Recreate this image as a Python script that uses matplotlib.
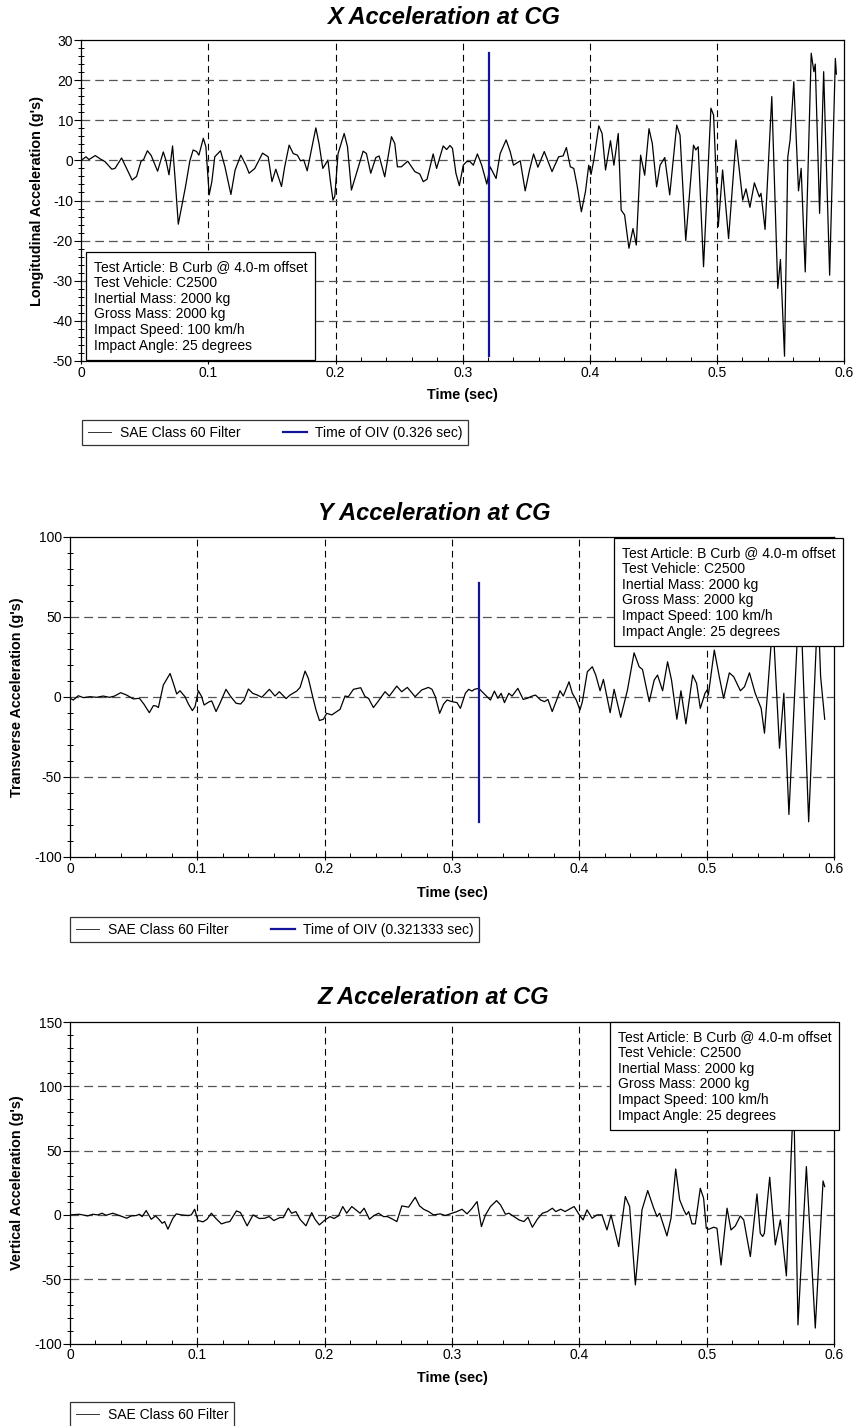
import matplotlib
matplotlib.use("Agg")
import matplotlib.pyplot as plt
from matplotlib.ticker import MultipleLocator, FuncFormatter
from matplotlib.transforms import blended_transform_factory

plt.rcParams['font.family'] = ['Liberation Sans', 'DejaVu Sans']
plt.rcParams['axes.unicode_minus'] = False

# ---- X acceleration ----
x_time = [0.0, 0.0037, 0.006, 0.011, 0.0147, 0.0186, 0.024, 0.0265, 0.0317, 0.035,
          0.040, 0.0435, 0.047, 0.049, 0.052, 0.055, 0.060, 0.0645, 0.0666, 0.069,
          0.0718, 0.074, 0.0763, 0.079, 0.082, 0.0854, 0.088, 0.0907, 0.0925, 0.096,
          0.098, 0.1006, 0.1027, 0.105, 0.1095, 0.113, 0.1177, 0.121, 0.1255, 0.1295,
          0.132, 0.1365, 0.1426, 0.147, 0.150, 0.153, 0.1575, 0.160, 0.1635, 0.1667,
          0.170, 0.1724, 0.175, 0.1777, 0.181, 0.1845, 0.187, 0.190, 0.1916, 0.194,
          0.196, 0.198, 0.1994, 0.202, 0.2068, 0.2094, 0.2125, 0.2165, 0.2217, 0.2243,
          0.2277, 0.2317, 0.2343, 0.2387, 0.244, 0.2466, 0.2487, 0.2518, 0.2568, 0.2624,
          0.2663, 0.269, 0.272, 0.2768, 0.2795, 0.2847, 0.2874, 0.290, 0.292, 0.2947,
          0.2974, 0.3005, 0.3032, 0.3058, 0.3084, 0.3116, 0.315, 0.319, 0.3216, 0.3263,
          0.3295, 0.3342, 0.3374, 0.340, 0.3453, 0.3492, 0.3526, 0.3558, 0.3592, 0.3642,
          0.3703, 0.3755, 0.379, 0.3816, 0.3847, 0.3874, 0.390, 0.3934, 0.3966, 0.3992,
          0.401, 0.4032, 0.4071, 0.4097, 0.4124, 0.4163, 0.419, 0.4224, 0.4247, 0.4274,
          0.4308, 0.434, 0.4366, 0.440, 0.4432, 0.4466, 0.4492, 0.4526, 0.4553, 0.459,
          0.4629, 0.4684, 0.471, 0.4755, 0.4816, 0.4834, 0.4853, 0.4895, 0.4953, 0.4974,
          0.5011, 0.5045, 0.5092, 0.515, 0.5203, 0.5229, 0.526, 0.5295, 0.5334, 0.5347,
          0.5379, 0.5432, 0.5479, 0.550, 0.5532, 0.5558, 0.5576, 0.5605, 0.5642, 0.5663,
          0.5695, 0.5742, 0.5763, 0.5774, 0.5808, 0.584, 0.5887, 0.5932, 0.594]
x_accel = [0.0, 0.9, 0.2, 1.2, 0.4, -0.3, -2.2, -2.0, 0.6, -1.6,
           -4.9, -4.0, -0.2, 0.2, 2.4, 1.2, -2.7, 2.1, 0.0, -3.6,
           3.6, -5.5, -15.9, -11.5, -6.5, -0.1, 2.6, 2.2, 1.3, 5.5,
           3.4, -8.6, -5.3, 0.9, 2.4, -1.6, -8.5, -2.4, 1.3, -1.2,
           -3.2, -2.0, 1.8, 0.9, -5.3, -2.2, -6.5, -1.6, 3.8, 1.7,
           1.3, -0.1, 0.1, -2.6, 2.6, 8.1, 4.2, -2.0, -1.2, 0.1,
           -5.3, -9.9, -9.0, 1.7, 6.7, 3.4, -7.4, -3.2, 2.3, 1.7,
           -3.2, 0.7, 1.1, -4.1, 5.9, 4.2, -1.6, -1.6, -0.2, -2.8,
           -3.4, -5.3, -4.7, 1.6, -2.0, 3.6, 2.7, 3.7, 3.0, -3.2,
           -6.3, -1.2, -0.3, -0.3, -1.2, 1.6, -1.2, -5.9, -1.6, -4.5,
           1.7, 5.1, 2.2, -1.2, -0.1, -7.6, -2.4, 1.6, -1.7, 2.2,
           -2.8, 0.9, 1.1, 3.2, -1.6, -2.0, -6.2, -12.8, -7.8, -1.2,
           -3.5, 0.1, 8.6, 6.7, -2.4, 4.9, -1.2, 6.7, -12.4, -13.6,
           -21.9, -17.0, -21.1, 1.3, -3.7, 7.9, 4.2, -6.6, -1.2, 0.7,
           -8.6, 8.8, 6.3, -20.0, 3.8, 2.6, 3.4, -26.5, 13.0, 11.3,
           -16.5, -2.4, -19.5, 5.1, -9.9, -7.1, -11.7, -5.6, -9.1, -8.2,
           -17.2, 15.9, -31.9, -24.7, -48.8, 0.9, 5.1, 19.6, -7.6, -2.0,
           -27.8, 26.7, 22.1, 24.0, -13.2, 22.1, -28.6, 25.4, 21.5]
x_oiv = 0.3208

# ---- Y acceleration ----
y_time = [0.0, 0.0026, 0.0065, 0.0105, 0.0157, 0.021, 0.026, 0.031, 0.035, 0.0398,
          0.0445, 0.0497, 0.0545, 0.058, 0.0623, 0.0655, 0.0676, 0.0694, 0.0733, 0.0786,
          0.0812, 0.0838, 0.0864, 0.0903, 0.093, 0.0961, 0.0982, 0.1008, 0.1034, 0.1053,
          0.1095, 0.1113, 0.1147, 0.1178, 0.1225, 0.1257, 0.1304, 0.134, 0.1367, 0.1401,
          0.1435, 0.1472, 0.1506, 0.1566, 0.161, 0.1644, 0.1697, 0.1728, 0.178, 0.1807,
          0.1846, 0.1872, 0.1906, 0.1932, 0.1959, 0.199, 0.2016, 0.2056, 0.2082, 0.2121,
          0.216, 0.2186, 0.2226, 0.2283, 0.2317, 0.2344, 0.2383, 0.2422, 0.2474, 0.2508,
          0.2566, 0.2605, 0.2649, 0.271, 0.2762, 0.2815, 0.2843, 0.2869, 0.2903, 0.2934,
          0.2961, 0.300, 0.3039, 0.3066, 0.3105, 0.3131, 0.3157, 0.3176, 0.321, 0.3236,
          0.327, 0.3302, 0.3333, 0.336, 0.3386, 0.3412, 0.3446, 0.3472, 0.3517, 0.3559,
          0.3591, 0.363, 0.3656, 0.3696, 0.3727, 0.3753, 0.3787, 0.3827, 0.3848, 0.3874,
          0.3919, 0.3945, 0.3976, 0.4005, 0.4024, 0.4063, 0.4102, 0.4129, 0.4163, 0.4189,
          0.4242, 0.4273, 0.4325, 0.4378, 0.443, 0.447, 0.4496, 0.4549, 0.4588, 0.4614,
          0.4654, 0.4693, 0.4724, 0.4766, 0.4798, 0.4837, 0.489, 0.4921, 0.495, 0.4987,
          0.5003, 0.5013, 0.506, 0.5098, 0.5133, 0.5178, 0.5212, 0.5265, 0.5297, 0.5336,
          0.5381, 0.5428, 0.5454, 0.552, 0.5572, 0.5606, 0.5646, 0.5732, 0.5801, 0.5874,
          0.5895, 0.5927]
y_accel = [-0.8, -1.9, 0.8, -0.4, 0.2, -0.2, 0.6, -0.2, 0.6, 2.7,
           1.2, -1.2, -0.8, -4.4, -9.8, -5.4, -5.6, -6.6, 7.5, 14.7,
           8.5, 1.9, 3.9, 0.2, -4.4, -8.5, -6.0, 3.9, 0.2, -5.0,
           -2.9, -2.5, -9.1, -3.9, 4.8, 0.8, -3.9, -4.4, -1.9, 5.0,
           2.3, 1.2, -0.2, 4.8, 0.6, 3.3, -1.0, 1.2, 3.7, 6.0,
           16.2, 11.6, 0.2, -8.1, -14.7, -13.9, -10.2, -11.2, -9.8, -7.7,
           0.6, 0.2, 4.8, 5.8, 0.2, -0.8, -6.6, -2.5, 3.3, 0.6,
           6.8, 3.3, 6.0, 0.2, 4.4, 6.0, 4.8, 0.2, -10.2, -4.4,
           -1.9, -2.9, -3.5, -7.1, 2.3, 4.8, 3.7, 4.8, 5.4, 3.3,
           0.6, -1.9, 3.7, -0.8, 2.3, -3.5, 2.3, 0.6, 5.4, -1.5,
           -0.8, 0.6, 1.2, -1.9, -2.9, -1.5, -9.1, -0.8, 3.9, 0.6,
           9.5, 2.3, -1.9, -8.1, -2.9, 15.8, 18.9, 13.7, 3.9, 11.0,
           -9.8, 4.8, -12.7, 4.4, 27.6, 18.9, 17.2, -2.9, 10.6, 13.7,
           3.9, 22.0, 10.6, -13.9, 3.9, -16.8, 13.7, 8.5, -7.1, 2.3,
           4.4, 1.2, 29.3, 13.1, -0.8, 15.1, 12.7, 3.9, 6.4, 15.1,
           2.3, -7.1, -22.6, 48.0, -32.0, 2.3, -73.4, 71.0, -78.0, 58.0,
           12.7, -13.9]
y_oiv = 0.3210

# ---- Z acceleration ----
z_time = [0.0, 0.0073, 0.0139, 0.0178, 0.0218, 0.0252, 0.0283, 0.0336, 0.0388, 0.0446,
          0.048, 0.052, 0.0546, 0.0567, 0.0598, 0.0638, 0.0672, 0.0698, 0.0724, 0.0743,
          0.0769, 0.0808, 0.0835, 0.0874, 0.0927, 0.0953, 0.0979, 0.1005, 0.1045, 0.1076,
          0.111, 0.1144, 0.1189, 0.1228, 0.1255, 0.1307, 0.1339, 0.1391, 0.1438, 0.1486,
          0.153, 0.1564, 0.1601, 0.1648, 0.1675, 0.1714, 0.174, 0.1774, 0.1806, 0.1853,
          0.1898, 0.1924, 0.1958, 0.2003, 0.2042, 0.2073, 0.2108, 0.2142, 0.2173, 0.2213,
          0.2252, 0.2278, 0.231, 0.2352, 0.2383, 0.2423, 0.2462, 0.2493, 0.2535, 0.2567,
          0.2606, 0.2659, 0.2711, 0.2745, 0.2777, 0.2816, 0.2855, 0.2908, 0.2947, 0.300,
          0.3039, 0.3079, 0.3118, 0.3158, 0.3197, 0.3231, 0.3263, 0.3302, 0.335, 0.3381,
          0.342, 0.3447, 0.3486, 0.3526, 0.3565, 0.3597, 0.3631, 0.367, 0.371, 0.3749,
          0.3788, 0.3815, 0.3854, 0.3888, 0.392, 0.3959, 0.400, 0.4029, 0.406, 0.410,
          0.4139, 0.4178, 0.4217, 0.4249, 0.4309, 0.4361, 0.4395, 0.444, 0.4492, 0.4537,
          0.4584, 0.461, 0.4631, 0.4688, 0.472, 0.4757, 0.4788, 0.482, 0.484, 0.4859,
          0.4885, 0.4911, 0.495, 0.4976, 0.4997, 0.5016, 0.5055, 0.5081, 0.5113, 0.516,
          0.5191, 0.5225, 0.5264, 0.5291, 0.5343, 0.5395, 0.5421, 0.544, 0.5453, 0.5495,
          0.5539, 0.5579, 0.5626, 0.5683, 0.5717, 0.5783, 0.5853, 0.5914, 0.5927]
z_accel = [0.0, 0.5, -0.8, 0.5, 0.0, 1.3, -0.3, 1.3, -0.5, -2.6,
           -0.8, -0.5, 0.5, -1.3, 3.4, -3.4, -0.8, -3.4, -6.5, -5.2,
           -11.1, -2.6, 0.8, 0.0, -0.5, 0.0, 4.4, -4.4, -5.4, -3.4,
           1.3, -2.6, -7.0, -5.7, -5.2, 3.1, 1.8, -8.5, 0.0, -2.8,
           -2.6, -1.3, -4.4, -2.1, -2.1, 5.2, 1.3, 2.6, -3.4, -8.5,
           1.8, -3.4, -7.8, -3.9, -1.3, -2.8, -0.8, 6.5, 1.3, 6.5,
           3.4, 1.3, 5.2, -3.4, -0.8, 1.3, -1.3, -1.3, -3.4, -5.2,
           7.0, 6.0, 13.7, 7.0, 4.4, 2.6, 0.0, 0.8, -0.5, 1.3,
           2.6, 4.4, 0.8, 5.2, 10.4, -9.1, 0.0, 6.5, 11.1, 7.8,
           0.5, 1.3, -1.3, -3.9, -5.2, -1.8, -9.6, -3.4, 1.3, 2.6,
           5.2, 2.6, 4.4, 2.6, 4.4, 6.5, 0.0, -3.9, 3.9, -2.6,
           0.0, 0.0, -11.7, 0.0, -24.6, 14.3, 6.5, -54.4, 3.9, 18.9,
           5.2, -1.3, 1.3, -16.3, -2.6, 35.7, 11.7, 3.9, 0.0, 2.6,
           -7.0, -7.0, 20.7, 13.0, -10.4, -11.2, -9.6, -10.4, -39.0, 5.2,
           -11.7, -8.6, -0.8, -3.9, -32.4, 16.3, -14.3, -16.8, -14.3, 29.3,
           -23.3, -3.9, -47.4, 95.0, -85.5, 37.6, -88.0, 26.4, 22.0]

info_lines = ["Test Article: B Curb @ 4.0-m offset", "Test Vehicle: C2500",
              "Inertial Mass: 2000 kg", "Gross Mass: 2000 kg",
              "Impact Speed: 100 km/h", "Impact Angle: 25 degrees"]
info_text = "\n".join(info_lines)

W, H = 856, 1426
FS = 10
fig = plt.figure(figsize=(W / 100, H / 100), dpi=100)


def fx(px):
    return px / W


def fy(py):
    return 1 - py / H


def make_axes(left, top, right, bottom):
    return fig.add_axes([fx(left), fy(bottom), fx(right) - fx(left), fy(top) - fy(bottom)])


def style_axes(ax, ylabel, ylim, ymajor, yminor):
    ax.set_xlim(0, 0.6)
    ax.set_ylim(*ylim)
    ax.xaxis.set_major_locator(MultipleLocator(0.1))
    ax.xaxis.set_minor_locator(MultipleLocator(0.02))
    ax.yaxis.set_major_locator(MultipleLocator(ymajor))
    ax.yaxis.set_minor_locator(MultipleLocator(yminor))
    ax.xaxis.set_major_formatter(FuncFormatter(lambda v, p: '0' if abs(v) < 1e-9 else f'{v:.1f}'))
    ax.tick_params(axis='x', which='major', direction='inout', length=5, width=0.8, labelsize=FS, pad=1)
    ax.tick_params(axis='x', which='minor', direction='in', length=3, width=0.7)
    ax.tick_params(axis='y', which='major', direction='out', length=5, width=0.8, labelsize=FS, pad=1)
    ax.tick_params(axis='y', which='minor', direction='inout', length=4, width=0.7)
    ax.tick_params(top=False, right=False)
    for s in ax.spines.values():
        s.set_linewidth(0.9)
    # grid: vertical black dashes, horizontal grey dashes
    for v in [0.1, 0.2, 0.3, 0.4, 0.5]:
        ax.axvline(v, color='black', lw=0.8, dashes=(6, 4), zorder=1)
    yv = ylim[0] + ymajor
    while yv < ylim[1] - 1e-9:
        ax.axhline(yv, color='#555555', lw=0.9, dashes=(7, 4), zorder=1)
        yv += ymajor
    ax.set_xlabel("Time (sec)", fontsize=10.4, fontweight='bold')
    ax.set_ylabel(ylabel, fontsize=10.4, fontweight='bold')


# --- X ---
ax1 = make_axes(81.3, 40, 844, 361)
ax1.plot(x_time, x_accel, color='black', lw=0.9, zorder=3, label='SAE Class 60 Filter')
ax1.plot([x_oiv, x_oiv], [min(x_accel), max(x_accel)], color='#14149a', lw=1.6, zorder=4,
         label='Time of OIV (0.326 sec)')
style_axes(ax1, "Longitudinal Acceleration (g's)", (-50, 30), 10, 2)

# --- Y ---
ax2 = make_axes(70, 537, 834, 857)
ax2.plot(y_time, y_accel, color='black', lw=0.9, zorder=3, label='SAE Class 60 Filter')
ax2.plot([y_oiv, y_oiv], [min(y_accel), max(y_accel)], color='#14149a', lw=1.6, zorder=4,
         label='Time of OIV (0.321333 sec)')
style_axes(ax2, "Transverse Acceleration (g's)", (-100, 100), 50, 10)

# --- Z ---
ax3 = make_axes(70, 1022, 834, 1343.5)
ax3.plot(z_time, z_accel, color='black', lw=0.9, zorder=3, label='SAE Class 60 Filter')
style_axes(ax3, "Vertical Acceleration (g's)", (-100, 150), 50, 10)

# titles (figure pixels)
for title, xc, yc in [("X Acceleration at CG", 443.5, 17), ("Y Acceleration at CG", 434.5, 513),
                      ("Z Acceleration at CG", 433.5, 998)]:
    fig.text(fx(xc), fy(yc), title, fontsize=17, fontweight='bold', fontstyle='italic',
             ha='center', va='center')

# axis label positions (figure pixels)
for ax, left, right, ypix in [(ax1, 81.3, 844, 395), (ax2, 70, 834, 893), (ax3, 70, 834, 1378)]:
    ax.xaxis.set_label_coords(fx((left + right) / 2), fy(ypix), transform=fig.transFigure)
    ax.xaxis.label.set_va('center')
for ax, xpix in [(ax1, 37), (ax2, 17), (ax3, 17)]:
    ax.yaxis.set_label_coords(fx(xpix), 0.5,
                              transform=blended_transform_factory(fig.transFigure, ax.transAxes))
    ax.yaxis.label.set_va('center')

# info boxes
box = dict(boxstyle='square,pad=0.55', fc='white', ec='black', lw=0.9)
for xpix, ypix in [(94, 260), (622, 546), (618, 1030)]:
    fig.text(fx(xpix), fy(ypix), info_text, fontsize=FS, va='top', ha='left',
             linespacing=1.16, bbox=box, zorder=10)

# legends below each chart
leg_kw = dict(loc='upper left', fontsize=FS, frameon=True, fancybox=False, edgecolor='black',
              handlelength=1.7, borderpad=0.4, handletextpad=0.6, columnspacing=3.1,
              bbox_transform=fig.transFigure, borderaxespad=0)
for ax, xpix, ypix, nc in [(ax1, 82, 420, 2), (ax2, 70, 917, 2), (ax3, 70, 1402, 1)]:
    lg = ax.legend(bbox_to_anchor=(fx(xpix), fy(ypix)), ncol=nc, **leg_kw)
    lg.get_frame().set_linewidth(0.9)
    lg.get_lines()[0].set_linewidth(0.7)
    lg.get_lines()[0].set_color('#333333')

fig.savefig("out.png", dpi=100)
